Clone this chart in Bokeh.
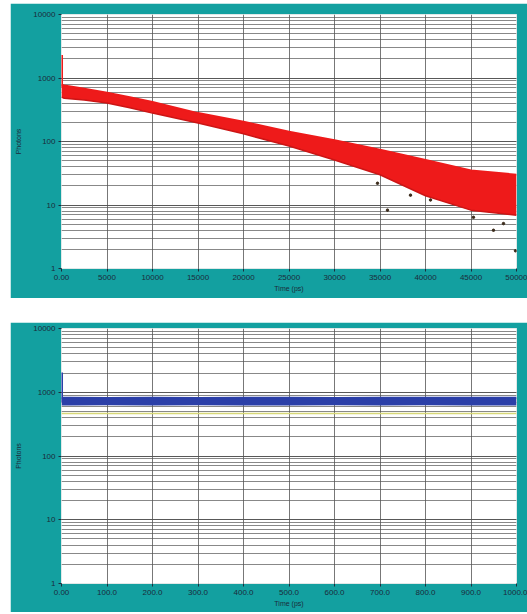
from bokeh.plotting import figure
from bokeh.layouts import column, row
from bokeh.models import Spacer, FixedTicker, LogTicker, Span
from bokeh.embed import file_html
from bokeh.resources import INLINE

# ---- data ----
# top panel: decay (red), time in ps
decay_t = [0, 300, 2500, 5000, 7500, 10000, 15000, 20000, 25000, 30000, 35000, 40000, 45000, 50000]
decay_hi = [780, 760, 680, 585, 500, 420, 280, 205, 142, 105, 74, 51, 35, 30]
decay_lo = [500, 480, 450, 405, 340, 280, 196, 132, 85, 51, 30, 14, 8.3, 6.9]
decay_spike = [700, 2300]
outlier_t = [34725, 35824, 38350, 40550, 45270, 47470, 48570, 49890]
outlier_v = [22, 8.3, 14.3, 12, 6.4, 4.0, 5.1, 1.9]

# bottom panel: flat signal (blue)
flat_t = [0, 20, 100, 200, 300, 400, 500, 600, 700, 800, 900, 1000]
flat_hi = [830, 830, 820, 825, 820, 830, 825, 820, 830, 825, 830, 830]
flat_lo = [620, 620, 625, 620, 625, 620, 620, 625, 620, 625, 620, 620]
flat_spike = [700, 2040]
ref_level = 464

top_ticks = [0, 5000, 10000, 15000, 20000, 25000, 30000, 35000, 40000, 45000, 50000]
top_labels = ["0.00", "5000", "10000", "15000", "20000", "25000", "30000", "35000", "40000", "45000", "50000"]
bot_ticks = [0, 100, 200, 300, 400, 500, 600, 700, 800, 900, 1000]
bot_labels = ["0.00", "100.0", "200.0", "300.0", "400.0", "500.0", "600.0", "700.0", "800.0", "900.0", "1000.0"]
y_ticks = [1, 10, 100, 1000, 10000]
y_labels = ["1", "10", "100", "1000", "10000"]

TEAL = "#13a0a0"
FONT = "Liberation Sans"


def make_panel(xmax, ticks, labels, height, top_border, bottom_border):
    p = figure(width=517, height=height, y_axis_type="log",
               x_range=(0, xmax), y_range=(1, 10000),
               output_backend="svg", toolbar_location=None,
               min_border_left=51, min_border_right=11,
               min_border_top=top_border, min_border_bottom=bottom_border)
    p.border_fill_color = TEAL
    p.background_fill_color = "white"
    p.outline_line_color = "#e0e8e8"
    p.xaxis.ticker = FixedTicker(ticks=ticks)
    p.xaxis.major_label_overrides = {t: l for t, l in zip(ticks, labels)}
    p.yaxis.ticker = LogTicker(num_minor_ticks=10)
    p.yaxis.major_label_overrides = {t: l for t, l in zip(y_ticks, y_labels)}
    for ax in (p.xaxis, p.yaxis):
        ax.major_label_text_font = FONT
        ax.major_label_text_font_size = "8px"
        ax.major_label_text_color = "#1b2b3b"
        ax.axis_label_text_font = FONT
        ax.axis_label_text_font_size = "7px"
        ax.axis_label_text_font_style = "normal"
        ax.axis_label_text_color = "#1b2b3b"
        ax.axis_line_color = None
        ax.major_tick_line_color = "#1b2b3b"
        ax.major_tick_in = 0
        ax.major_tick_out = 3
        ax.minor_tick_line_color = None
    p.xaxis.axis_label = "Time (ps)"
    p.xaxis.axis_label_standoff = 2
    p.xaxis.major_label_standoff = 3
    p.yaxis.axis_label = "Photons"
    p.yaxis.axis_label_standoff = 8
    p.yaxis.major_label_standoff = 2
    p.xgrid.grid_line_color = "#555555"
    p.xgrid.grid_line_alpha = 0.8
    p.ygrid.grid_line_color = "#555555"
    p.ygrid.grid_line_alpha = 0.8
    p.ygrid.minor_grid_line_color = "#555555"
    p.ygrid.minor_grid_line_alpha = 0.7
    return p


p1 = make_panel(50000, top_ticks, top_labels, 295, 11, 30)
p1.varea(x=decay_t, y1=decay_lo, y2=decay_hi, fill_color="#ee1a1a")
p1.line(x=decay_t, y=decay_hi, line_color="#ee1a1a", line_width=2)
p1.line(x=decay_t, y=decay_lo, line_color="#cc1515", line_width=1.5)
p1.line(x=[decay_t[0], decay_t[0]], y=decay_spike, line_color="#ee1a1a", line_width=3)
p1.scatter(x=outlier_t, y=outlier_v, size=2.5, color="#3a2a1a")

p2 = make_panel(1000, bot_ticks, bot_labels, 290, 6, 29)
p2.add_layout(Span(location=ref_level, dimension="width", line_color="#d8d878", line_width=1.5))
p2.varea(x=flat_t, y1=flat_lo, y2=flat_hi, fill_color="#2b3fa8")
p2.line(x=flat_t, y=flat_hi, line_color="#2b3fa8", line_width=1.5)
p2.line(x=[flat_t[0], flat_t[0]], y=flat_spike, line_color="#2b3fa8", line_width=3)

layout = row(Spacer(width=10),
             column(Spacer(height=3), p1, Spacer(height=24), p2, spacing=0),
             spacing=0)

open("out.html", "w").write(file_html(layout, INLINE))
